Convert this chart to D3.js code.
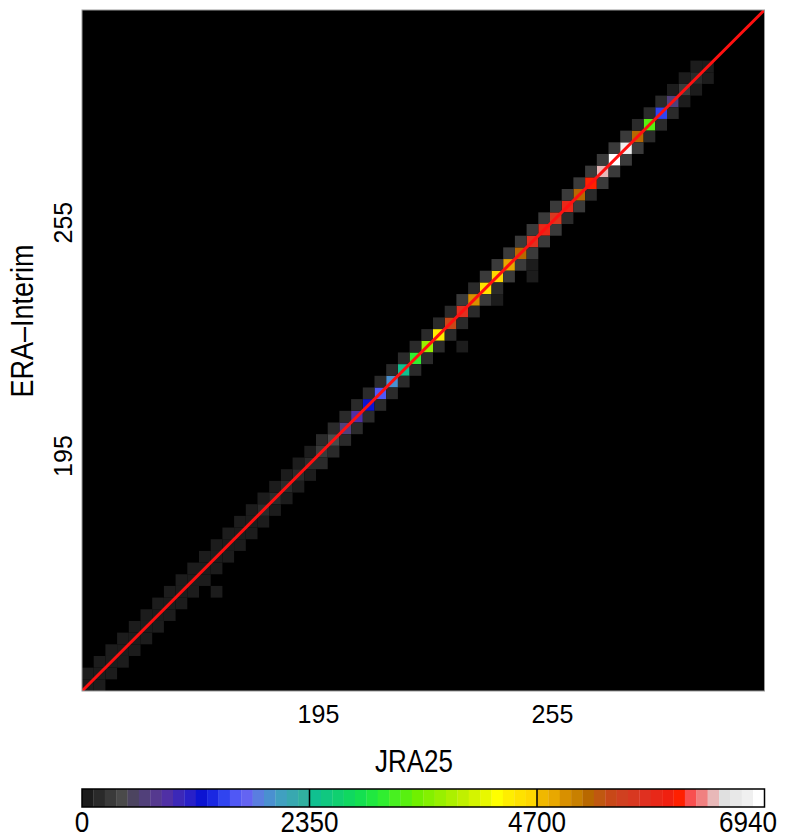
<!DOCTYPE html>
<html>
<head>
<meta charset="utf-8">
<script src="https://cdn.jsdelivr.net/npm/d3@7/dist/d3.min.js"></script>
<style>
  body { margin: 0; background: #fff; }
  svg { display: block; }
  text { font-family: "Liberation Sans", Arial, Helvetica, sans-serif; fill: #000; }
</style>
</head>
<body>
<svg id="chart" width="786" height="839"></svg>
<script>
// Joint histogram of JRA25 vs ERA-Interim temperature (K), 3 K bins on both axes.
const binStart = 134.5;
const binWidth = 3;
const axisDomain = [134.5, 309.5];
const axisTicks = [195, 255];

// counts in the diagonal bins (JRA bin k, ERA bin k), k = 0..53
const diagCounts = [
  60, 80, 70, 90, 70, 90, 80, 100, 90, 110,
  100, 110, 100, 110, 110, 140, 160, 180, 200, 210,
  300, 420, 650, 880, 1230, 1580, 1940, 2410, 3110, 3700,
  4400, 5430, 5760, 4980, 4520, 4640, 4870, 5200, 5760, 5870,
  5650, 5870, 5200, 6100, 6430, 6900, 6770, 5200, 3350, 1470,
  650, 300, 170, 60
];
// counts one bin above the diagonal (JRA bin k, ERA bin k+1)
const aboveCounts = [
  70, 60, 50, 60, 70, 60, 70, 60, 80, 70,
  80, 70, 80, 90, 80, 90, 100, 90, 110, 100,
  130, 150, 140, 160, 150, 170, 160, 180, 170, 190,
  200, 220, 250, 230, 260, 240, 250, 260, 280, 270,
  260, 250, 240, 260, 300, 320, 280, 230, 190, 150,
  110, 80, 60
];
// counts one bin below the diagonal (JRA bin k+1, ERA bin k)
const belowCounts = [
  60, 70, 60, 50, 60, 70, 60, 70, 60, 70,
  70, 80, 90, 80, 90, 80, 100, 110, 100, 120,
  140, 130, 150, 140, 160, 170, 160, 170, 190, 180,
  210, 230, 220, 240, 230, 250, 240, 260, 250, 240,
  230, 240, 220, 250, 270, 260, 240, 200, 160, 120,
  90, 70, 50
];
// scattered bins away from the band: [JRA bin, ERA bin, count]
const extraCells = [[11, 8, 60], [32, 29, 70], [35, 33, 90], [38, 35, 80], [38, 36, 90]];

// colour levels: 60 classes, labelled at class edges 0, 20, 40, 60
const levelTickIndex = [0, 20, 40, 60];
const levelTickValues = [0, 2350, 4700, 6940];
const levelColors = [
  "#1c1c1c", "#2a2a2a", "#3a3a3a", "#4a4a4a", "#4c4460", "#51407a", "#55398f", "#5030a5", "#3c28b8", "#2820c8",
  "#0c14d2", "#1a28e2", "#3044f0", "#5058f5", "#6464f2", "#5a7ee0", "#4a90d0", "#40a0c0", "#38a8b0", "#30b0a0",
  "#10c090", "#10c880", "#10d070", "#10d860", "#14e050", "#20e840", "#30ee30", "#48f020", "#58f010", "#70f000",
  "#84f000", "#98f000", "#acf000", "#c0f000", "#d4f400", "#e8f800", "#ffff00", "#ffee00", "#ffe200", "#ffd800",
  "#f0b800", "#e8a800", "#d89000", "#c88000", "#b86800", "#c05810", "#c84818", "#d04020", "#d83820", "#e03020",
  "#e82818", "#f02010", "#ff2000", "#f85050", "#f08080", "#e8b8b8", "#e0e0e0", "#e8e8e8", "#f0f0f0", "#ffffff"
];

// ---- derived tables ----
const nLevels = levelColors.length;
const levelIndexToValue = d3.scaleLinear().domain(levelTickIndex).range(levelTickValues);
const levelEdges = d3.range(1, nLevels).map(i => levelIndexToValue(i));
const color = d3.scaleThreshold().domain(levelEdges).range(levelColors);

const cells = [];
diagCounts.forEach((c, k) => cells.push({ i: k, j: k, c }));
aboveCounts.forEach((c, k) => cells.push({ i: k, j: k + 1, c }));
belowCounts.forEach((c, k) => cells.push({ i: k + 1, j: k, c }));
extraCells.forEach(([i, j, c]) => cells.push({ i, j, c }));

// ---- layout ----
const plot = { left: 82, right: 764.5, top: 10, bottom: 691 };
const svg = d3.select("#chart");

const x = d3.scaleLinear().domain(axisDomain).range([plot.left, plot.right]);
const y = d3.scaleLinear().domain(axisDomain).range([plot.bottom, plot.top]);

svg.append("defs").append("clipPath").attr("id", "plotClip")
  .append("rect")
  .attr("x", plot.left).attr("y", plot.top)
  .attr("width", plot.right - plot.left).attr("height", plot.bottom - plot.top);

svg.append("rect")
  .attr("x", plot.left).attr("y", plot.top)
  .attr("width", plot.right - plot.left).attr("height", plot.bottom - plot.top)
  .attr("fill", "#000");

const binLo = b => binStart + b * binWidth;

svg.append("g").attr("clip-path", "url(#plotClip)")
  .selectAll("rect").data(cells.filter(d => d.c > 0)).join("rect")
  .attr("x", d => x(binLo(d.i)))
  .attr("y", d => y(binLo(d.j + 1)))
  .attr("width", d => x(binLo(d.i + 1)) - x(binLo(d.i)))
  .attr("height", d => y(binLo(d.j)) - y(binLo(d.j + 1)))
  .attr("fill", d => color(d.c));

// 1:1 line
svg.append("path")
  .attr("clip-path", "url(#plotClip)")
  .attr("d", d3.line().x(d => x(d)).y(d => y(d))(axisDomain))
  .attr("stroke", "#ff1010").attr("stroke-width", 3).attr("fill", "none");

// frame
svg.append("rect")
  .attr("x", plot.left).attr("y", plot.top)
  .attr("width", plot.right - plot.left).attr("height", plot.bottom - plot.top)
  .attr("fill", "none").attr("stroke", "#9a9a9a").attr("stroke-width", 1);

// axes
const xAxis = svg.append("g").attr("transform", `translate(0,${plot.bottom})`)
  .call(d3.axisBottom(x).tickValues(axisTicks).tickSize(0).tickFormat(d3.format("d")));
xAxis.select(".domain").remove();
xAxis.selectAll("text")
  .attr("y", 32).attr("dy", 0)
  .style("font-size", "25px").style("font-family", "Liberation Sans, Arial, sans-serif").attr("fill", "#000");

const yAxis = svg.append("g").attr("transform", `translate(${plot.left},0)`)
  .call(d3.axisLeft(y).tickValues(axisTicks).tickSize(0).tickFormat(d3.format("d")));
yAxis.select(".domain").remove();
yAxis.selectAll("text")
  .attr("transform", "rotate(-90)")
  .attr("x", 0).attr("y", -10).attr("dy", 0)
  .attr("text-anchor", "middle")
  .style("font-size", "25px").style("font-family", "Liberation Sans, Arial, sans-serif").attr("fill", "#000");

svg.append("text")
  .attr("x", 414).attr("y", 772)
  .attr("text-anchor", "middle")
  .attr("textLength", 78).attr("lengthAdjust", "spacingAndGlyphs")
  .style("font-size", "31px")
  .text("JRA25");

svg.append("text")
  .attr("transform", "translate(33,321) rotate(-90)")
  .attr("text-anchor", "middle")
  .attr("textLength", 153).attr("lengthAdjust", "spacingAndGlyphs")
  .style("font-size", "31px")
  .text("ERA\u2013Interim");

// colour bar
const cb = { top: 789, height: 18 };
const cbx = d3.scaleLinear().domain([0, nLevels]).range([plot.left, plot.right]);
const cbg = svg.append("g");
cbg.selectAll("rect").data(levelColors).join("rect")
  .attr("x", (d, i) => cbx(i))
  .attr("y", cb.top)
  .attr("width", (d, i) => cbx(i + 1) - cbx(i) + 0.3)
  .attr("height", cb.height)
  .attr("fill", d => d);
cbg.selectAll("line").data(levelTickIndex.slice(1, -1)).join("line")
  .attr("x1", d => cbx(d)).attr("x2", d => cbx(d))
  .attr("y1", cb.top).attr("y2", cb.top + cb.height)
  .attr("stroke", "#000").attr("stroke-width", 1.5);
cbg.append("rect")
  .attr("x", cbx(0)).attr("y", cb.top)
  .attr("width", cbx(nLevels) - cbx(0)).attr("height", cb.height)
  .attr("fill", "none").attr("stroke", "#000").attr("stroke-width", 1.5);

const digitW = 14.5;
cbg.selectAll("text").data(levelTickIndex).join("text")
  .attr("x", (d, i) => {
    const w = String(levelTickValues[i]).length * digitW;
    return Math.min(cbx(d), 777 - w / 2);
  })
  .attr("y", 832)
  .attr("text-anchor", "middle")
  .attr("textLength", (d, i) => String(levelTickValues[i]).length * digitW)
  .attr("lengthAdjust", "spacingAndGlyphs")
  .style("font-size", "30px")
  .text((d, i) => levelTickValues[i]);
</script>
</body>
</html>
